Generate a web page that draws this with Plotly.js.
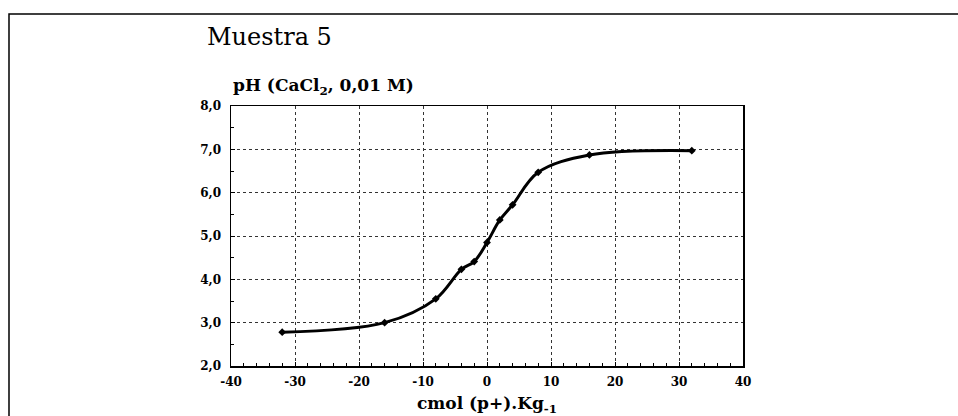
<!DOCTYPE html>
<html>
<head>
<meta charset="utf-8">
<script src="https://cdn.plot.ly/plotly-3.0.1.min.js"></script>
<style>html,body{margin:0;padding:0;background:#fff;}#chart{width:958px;height:416px;}</style>
</head>
<body>
<div id="chart"></div>
<script>
// Data
const xValues = [-32, -16, -8, -4, -2, 0, 2, 4, 8, 16, 32];
const phValues = [2.78, 3.0, 3.55, 4.23, 4.41, 4.85, 5.37, 5.72, 6.47, 6.87, 6.97];
const yTickVals = [2, 3, 4, 5, 6, 7, 8];
const xTickVals = [-40, -30, -20, -10, 0, 10, 20, 30, 40];

const chartTitle = 'Muestra 5';
const yTitle = 'pH (CaCl<sub>2</sub>, 0,01 M)';
const xTitle = 'cmol (p+).Kg<sub>-1</sub>';

const serif = 'DejaVu Serif, Liberation Serif, serif';

const trace = {
  x: xValues,
  y: phValues,
  type: 'scatter',
  mode: 'lines+markers',
  line: {color: '#000', width: 3, shape: 'spline', smoothing: 1},
  marker: {symbol: 'diamond', size: 6, color: '#000'},
  hoverinfo: 'x+y'
};

const axisCommon = {
  showline: true, linecolor: '#000', linewidth: 1.5, mirror: true,
  showgrid: true, gridcolor: '#333', griddash: 'dot', gridwidth: 1,
  zeroline: false, ticks: 'inside', ticklen: 4, tickcolor: '#000',
  tickfont: {family: serif, size: 12, color: '#000', weight: 'bold'}
};

const layout = {
  width: 958, height: 416,
  margin: {l: 231, r: 215, t: 106, b: 50},
  paper_bgcolor: '#fff', plot_bgcolor: '#fff',
  separators: ',.',
  showlegend: false,
  xaxis: Object.assign({}, axisCommon, {
    range: [-40, 40], tickvals: xTickVals, ticktext: xTickVals.map(v => String(v)),
    ticklabelstandoff: 4,
    minor: {dtick: 2, ticks: 'inside', ticklen: 3, tickcolor: '#000', showgrid: false},
    title: {text: xTitle, font: {family: serif, size: 17, color: '#000', weight: 'bold'}, standoff: 10}
  }),
  yaxis: Object.assign({}, axisCommon, {
    range: [2, 8], tickvals: yTickVals, tickformat: '.1f',
    ticklabelstandoff: 6,
    minor: {dtick: 0.5, ticks: 'inside', ticklen: 3, tickcolor: '#000', showgrid: false}
  }),
  annotations: [
    {text: chartTitle, xref: 'paper', yref: 'paper', x: -0.05, y: 1.265,
     xanchor: 'left', yanchor: 'middle', showarrow: false,
     font: {family: serif, size: 24, color: '#000'}},
    {text: yTitle, xref: 'paper', yref: 'paper', x: 0.0, y: 1.075,
     xanchor: 'left', yanchor: 'middle', showarrow: false,
     font: {family: serif, size: 17, color: '#000', weight: 'bold'}}
  ],
  shapes: [
    {type: 'rect', xref: 'paper', yref: 'paper', x0: -0.4336, x1: 1.43, y0: -0.22, y1: 1.354,
     line: {color: '#000', width: 1.5}, fillcolor: 'rgba(0,0,0,0)', layer: 'below'}
  ]
};

Plotly.newPlot('chart', [trace], layout, {displayModeBar: false, staticPlot: true});
</script>
</body>
</html>
